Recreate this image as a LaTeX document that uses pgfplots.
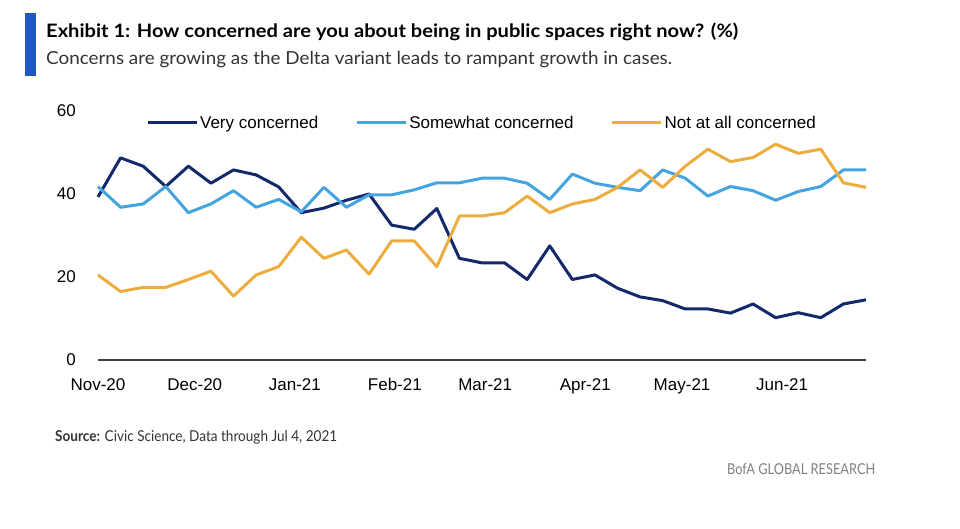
\documentclass[border=0pt]{standalone}
\usepackage{pgfplots}
\pgfplotsset{compat=1.18}
\usepackage{pgfplotstable}
\usepackage{fontspec}
\usepackage{graphicx}
\newfontfamily\arial{Liberation Sans}
\newfontfamily\lato{Lato}
\definecolor{navy}{RGB}{19,41,107}
\definecolor{lblue}{RGB}{68,164,224}
\definecolor{gold}{RGB}{236,173,62}
\definecolor{barblue}{RGB}{31,87,195}
\definecolor{axgray}{RGB}{64,64,64}
\pgfplotstableread{
x very some notat
0 39.3 41.8 20.5
7 48.7 36.8 16.5
14 46.7 37.6 17.5
21 41.8 41.8 17.5
28 46.7 35.5 19.4
35 42.6 37.6 21.4
42 45.8 40.8 15.4
49 44.6 36.8 20.5
56 41.7 38.7 22.5
63 35.5 35.7 29.6
70 36.6 41.6 24.5
77 38.5 36.8 26.5
84 40.0 39.8 20.7
91 32.5 39.8 28.7
98 31.5 41.0 28.7
105 36.5 42.7 22.5
112 24.5 42.7 34.7
119 23.4 43.8 34.7
126 23.4 43.8 35.5
133 19.4 42.6 39.5
140 27.5 38.7 35.5
147 19.4 44.8 37.6
154 20.5 42.6 38.7
161 17.3 41.6 41.6
168 15.2 40.8 45.8
175 14.3 45.8 41.6
182 12.3 43.8 46.7
189 12.3 39.5 50.8
196 11.3 41.8 47.8
203 13.5 40.8 48.8
210 10.2 38.5 52.0
217 11.4 40.6 49.8
224 10.2 41.8 50.8
231 13.5 45.8 42.7
238 14.5 45.8 41.6
}\datatable
\begin{document}
\begin{tikzpicture}
\path (0pt,0pt) rectangle (960pt,528pt);
\fill[barblue] (25pt,452pt) rectangle (36pt,515.3pt);
\node[anchor=base west, inner sep=0pt] at (46pt,490.7pt)
  {\resizebox{692pt}{\height}{\lato\bfseries\fontsize{18.5}{22}\selectfont Exhibit 1: How concerned are you about being in public spaces right now? (\%)}};
\node[anchor=base west, inner sep=0pt, text=black!80] at (46pt,463pt)
  {\resizebox{626pt}{\height}{\lato\fontsize{18}{22}\selectfont Concerns are growing as the Delta variant leads to rampant growth in cases.}};
\node[anchor=base west, inner sep=0pt, text=black!80] at (55pt,86.3pt)
  {\resizebox{282pt}{\height}{\lato\fontsize{15}{18}\selectfont \textbf{Source:} Civic Science, Data through Jul 4, 2021}};
\node[anchor=base west, inner sep=0pt, text=black!50] at (727pt,54pt)
  {\resizebox{148pt}{\height}{\lato\fontsize{15}{18}\selectfont BofA GLOBAL RESEARCH}};
\begin{axis}[
  at={(98pt,168pt)}, anchor=south west,
  scale only axis, width=768pt, height=249pt,
  xmin=0, xmax=238, ymin=0, ymax=60,
  clip=false,
  axis x line=bottom, axis y line=left,
  x axis line style={draw=axgray, line width=2.2pt, -},
  y axis line style={draw=none},
  major tick length=0pt,
  xtick={0,30,61,92,120,151,181,212},
  xticklabels={Nov-20,Dec-20,Jan-21,Feb-21,Mar-21,Apr-21,May-21,Jun-21},
  ytick={0,20,40,60},
  /pgf/number format/assume math mode=true,
  ticklabel style={font=\arial\fontsize{17}{20}\selectfont, text=black},
  yticklabel style={inner sep=0pt, anchor=east, xshift=-22pt},
  xticklabel style={inner sep=0pt, anchor=north, yshift=-18pt},
  legend style={draw=none, fill=none, at={(0.5,0.953)}, anchor=center,
    legend columns=3, font=\arial\fontsize{17}{20}\selectfont,
    /tikz/every even column/.append style={column sep=35pt}},
  legend image code/.code={\draw[#1] (0pt,0pt) -- (49pt,0pt);},
  every axis plot/.append style={line width=3pt, line join=round},
]
\addplot[navy, mark=none] table[x=x, y=very] {\datatable};
\addplot[lblue, mark=none] table[x=x, y=some] {\datatable};
\addplot[gold, mark=none] table[x=x, y=notat] {\datatable};
\legend{Very concerned, Somewhat concerned, Not at all concerned}
\end{axis}
\end{tikzpicture}
\end{document}
